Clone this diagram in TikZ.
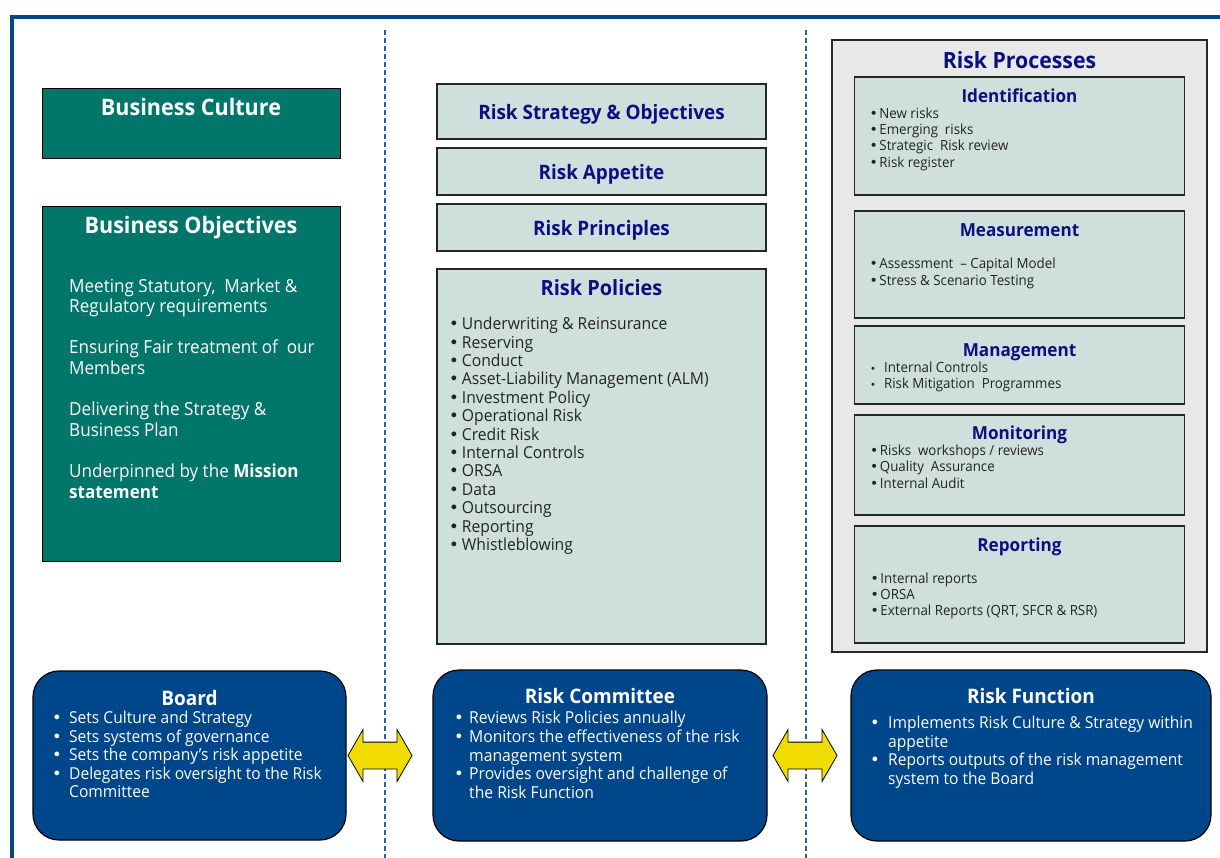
\documentclass[tikz,border=0pt]{standalone}
\usepackage{fontspec}
\setmainfont{Open Sans}[FakeStretch=0.95]
\newfontfamily\bulfont{DejaVu Sans}
\usepackage{xcolor}
\usepackage{tikz}
\usetikzlibrary{shapes, shapes.arrows, positioning}

\definecolor{frameblue}{RGB}{0,71,139}
\definecolor{sepblue}{RGB}{45,95,160}
\definecolor{bizgreen}{RGB}{0,118,106}
\definecolor{riskgrey}{RGB}{207,223,220}
\definecolor{procgrey}{RGB}{232,232,232}
\definecolor{titlenavy}{RGB}{10,16,128}
\definecolor{boardblue}{RGB}{0,70,139}
\definecolor{arrowyellow}{RGB}{240,220,0}
\definecolor{listgrey}{RGB}{35,35,35}

% bullet list: #1 = gap after the bullet
\newcommand{\blist}[2]{\begin{tabular}{@{}l@{\hspace{#1}}l@{}}#2\end{tabular}}
\newcommand{\bul}{{\bulfont\textbullet}}
\newcommand{\sdot}{{\bulfont\fontsize{10}{10}\selectfont\textbullet}}

\begin{document}
\begin{tikzpicture}[x=1pt, y=-1pt,
    greenbox/.style={rectangle, draw=black, line width=1pt, fill=bizgreen, inner sep=0pt, outer sep=0pt, anchor=north west},
    riskbox/.style={rectangle, draw=black!85, line width=1.2pt, fill=riskgrey, inner sep=0pt, outer sep=0pt, minimum width=329pt, text depth=0pt, text=titlenavy, font=\fontsize{19.9}{22}\selectfont\bfseries},
    procbox/.style={rectangle, draw=black!85, line width=1.2pt, fill=riskgrey, inner sep=0pt, outer sep=0pt, minimum width=330pt},
    govbox/.style={rectangle, rounded corners=26pt, draw=black, line width=1.2pt, fill=boardblue, inner sep=0pt, outer sep=0pt, anchor=north west, minimum height=171pt},
    gtitle/.style={anchor=base, inner sep=0pt, text=white, font=\fontsize{22.7}{26}\selectfont\bfseries},
    ntitle/.style={anchor=base, inner sep=0pt, text=titlenavy, font=\fontsize{18}{22}\selectfont\bfseries},
    wtitle/.style={anchor=base, inner sep=0pt, text=white, font=\fontsize{20}{24}\selectfont\bfseries},
    plist/.style={anchor=north west, inner sep=0pt, text=listgrey, font=\fontsize{14}{16.4}\selectfont},
    wlist/.style={anchor=north west, inner sep=0pt, text=white, font=\fontsize{16.4}{18.5}\selectfont},
    bigarrow/.style={double arrow, draw=black, line width=0.8pt, fill=arrowyellow, inner xsep=0pt, inner ysep=13pt, outer sep=0pt, minimum height=64pt, minimum width=51pt, double arrow head extend=12.5pt, double arrow tip angle=120, anchor=west},
    frameline/.style={frameblue, line width=4pt},
    sepline/.style={sepblue, line width=1.1pt, dash pattern=on 5pt off 3pt}]
    \useasboundingbox (0,0) rectangle (1220,858);

    % frame and column separators
    \draw[frameline] (1222,17) -- (12,17) -- (12,860);
    \draw[sepline] (385,30) -- (385,858);
    \draw[sepline] (806,30) -- (806,858);

    % left column
    \node[greenbox, minimum width=298pt, minimum height=70pt] (bus_cult) at (42,89) {};
    \node[gtitle] (bus_cult_t) at ([yshift=-27pt]bus_cult.north) {Business Culture};
    \node[greenbox, minimum width=298pt, minimum height=354pt] (bus_obj) at (42,207) {};
    \node[gtitle] (bus_obj_t) at ([yshift=-27pt]bus_obj.north) {Business Objectives};
    \node[anchor=north west, inner sep=0pt, text=white, font=\fontsize{18}{20.6}\selectfont] (bus_obj_l) at (69,277.4) {\begin{tabular}{@{}l@{}}
        Meeting Statutory,\ \ Market \&\\ Regulatory requirements\\ \\
        Ensuring Fair treatment of\ \ our\\ Members\\ \\
        Delivering the Strategy \&\\ Business Plan\\ \\
        Underpinned by the \textbf{Mission}\\ \textbf{statement}
      \end{tabular}};

    % middle column
    \node[riskbox, minimum height=55pt, anchor=north west] (r_strat) at (437,84) {Risk Strategy \& Objectives};
    \node[riskbox, minimum height=47pt] (r_app) [below=9pt of r_strat] {Risk Appetite};
    \node[riskbox, minimum height=47pt] (r_princ) [below=9pt of r_app] {Risk Principles};
    \node[riskbox, minimum height=375pt] (r_pol) [below=18pt of r_princ] {};
    \node[ntitle, font=\fontsize{21}{24}\selectfont\bfseries] (r_pol_t) at ([yshift=-26.6pt]r_pol.north) {Risk Policies};
    \node[plist, font=\fontsize{16.5}{18.4}\selectfont] (r_pol_l) at (449,316.6) {\blist{3pt}{
        \bul & Underwriting \& Reinsurance\\ \bul & Reserving\\ \bul & Conduct\\
        \bul & Asset-Liability Management (ALM)\\ \bul & Investment Policy\\
        \bul & Operational Risk\\ \bul & Credit Risk\\ \bul & Internal Controls\\
        \bul & ORSA\\ \bul & Data\\ \bul & Outsourcing\\ \bul & Reporting\\
        \bul & Whistleblowing}};

    % right column
    \node[rectangle, draw=black!85, line width=1.2pt, fill=procgrey, inner sep=0pt, outer sep=0pt, minimum width=375pt, minimum height=612pt, anchor=north west] (r_proc) at (832,40) {};
    \node[ntitle, font=\fontsize{22.4}{26}\selectfont\bfseries] (r_proc_t) at ([yshift=-28.5pt]r_proc.north) {Risk Processes};

    \node[procbox, minimum height=118pt] (ident) [below=37pt of r_proc.north] {};
    \node[ntitle] (ident_t) at ([yshift=-25.5pt]ident.north) {Identification};
    \node[plist] (ident_l) at (869.5,106.4) {\blist{1.5pt}{
        \bul & New risks\\ \bul & Emerging\ \ risks\\
        \bul & Strategic\ \ Risk review\\ \bul & Risk register}};

    \node[procbox, minimum height=107pt] (meas) [below=16pt of ident] {};
    \node[ntitle] (meas_t) at ([yshift=-25.5pt]meas.north) {Measurement};
    \node[plist, font=\fontsize{14}{17}\selectfont] (meas_l) at (869.5,256.2) {\blist{1.5pt}{
        \bul & Assessment\ \ -- Capital Model\\ \bul & Stress \& Scenario Testing}};

    \node[procbox, minimum height=78pt] (mgmt) [below=8pt of meas] {};
    \node[ntitle] (mgmt_t) at ([yshift=-30.5pt]mgmt.north) {Management};
    \node[plist] (mgmt_l) at (870,360.4) {\blist{8pt}{
        \sdot & Internal Controls\\ \sdot & Risk Mitigation\ \ Programmes}};

    \node[procbox, minimum height=100pt] (monit) [below=11pt of mgmt] {};
    \node[ntitle] (monit_t) at ([yshift=-24.5pt]monit.north) {Monitoring};
    \node[plist, font=\fontsize{14}{16.5}\selectfont] (monit_l) at (870,443.4) {\blist{1.5pt}{
        \bul & Risks\ \ workshops / reviews\\ \bul & Quality\ \ Assurance\\
        \bul & Internal Audit}};

    \node[procbox, minimum height=117pt] (rep) [below=11pt of monit] {};
    \node[ntitle] (rep_t) at ([yshift=-25.5pt]rep.north) {Reporting};
    \node[plist, font=\fontsize{14}{16}\selectfont] (rep_l) at (870.5,572.5) {\blist{1.5pt}{
        \bul & Internal reports\\ \bul & ORSA\\
        \bul & External Reports (QRT, SFCR \& RSR)}};

    % governance row
    \node[govbox, minimum width=313pt, minimum height=169pt] (board) at (33,671) {};
    \node[wtitle] (board_t) at ([yshift=-34pt]board.north) {Board};
    \node[wlist] (board_l) at (52,710.6) {\blist{7.3pt}{
        \bul & Sets Culture and Strategy\\ \bul & Sets systems of governance\\
        \bul & Sets the company’s risk appetite\\
        \bul & Delegates risk oversight to the Risk\\ & Committee}};

    \node[govbox, minimum width=334pt] (committee) at (433,670) {};
    \node[wtitle] (committee_t) at ([yshift=-33pt]committee.north) {Risk Committee};
    \node[wlist, font=\fontsize{16.5}{18.75}\selectfont] (committee_l) at (454,710.4) {\blist{5.3pt}{
        \bul & Reviews Risk Policies annually\\
        \bul & Monitors the effectiveness of the risk\\ & management system\\
        \bul & Provides oversight and challenge of\\ & the Risk Function}};

    \node[govbox, minimum width=360pt] (function) at (851,670) {};
    \node[wtitle] (function_t) at ([yshift=-33pt]function.north) {Risk Function};
    \node[wlist] (function_l) at (870,715.6) {\blist{8.3pt}{
        \bul & Implements Risk Culture \& Strategy within\\ & appetite\\
        \bul & Reports outputs of the risk management\\ & system to the Board}};

    \node[bigarrow] (arr_bc) [right=2pt of board] {};
    \node[bigarrow] (arr_cf) [right=6pt of committee] {};
\end{tikzpicture}
\end{document}
